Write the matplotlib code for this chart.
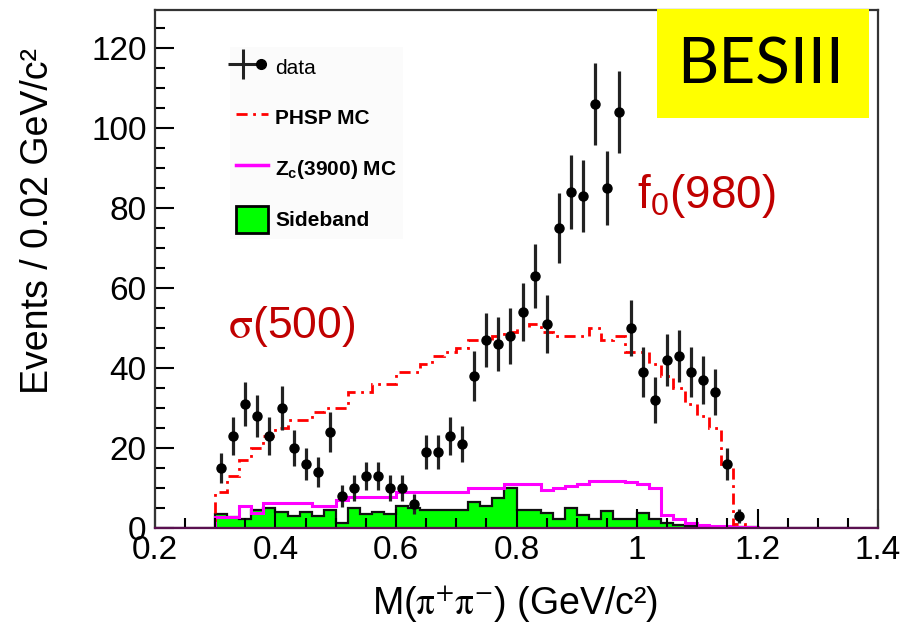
import numpy as np
import matplotlib
matplotlib.use('Agg')
import matplotlib.pyplot as plt
from matplotlib.patches import Rectangle, Patch
from matplotlib.lines import Line2D
from matplotlib.legend_handler import HandlerTuple

plt.rcParams['font.family'] = ['Liberation Sans', 'DejaVu Sans']
plt.rcParams['mathtext.fontset'] = 'custom'
plt.rcParams['mathtext.rm'] = 'Liberation Sans'
plt.rcParams['mathtext.it'] = 'Liberation Sans:italic'
plt.rcParams['mathtext.bf'] = 'Liberation Sans:bold'

# data points: bin centres (GeV/c^2) and events per 0.02 GeV/c^2
mass = [0.31, 0.33, 0.35, 0.37, 0.39, 0.41, 0.43, 0.45, 0.47, 0.49,
        0.51, 0.53, 0.55, 0.57, 0.59, 0.61, 0.63, 0.65, 0.67, 0.69,
        0.71, 0.73, 0.75, 0.77, 0.79, 0.81, 0.83, 0.85, 0.87, 0.89,
        0.91, 0.93, 0.95, 0.97, 0.99, 1.01, 1.03, 1.05, 1.07, 1.09,
        1.11, 1.13, 1.15, 1.17]
counts = [15, 23, 31, 28, 23, 30, 20, 16, 14, 24,
          8, 10, 13, 13, 10, 10, 6, 19, 19, 23,
          21, 38, 47, 46, 48, 54, 63, 51, 75, 84,
          83, 106, 85, 104, 50, 39, 32, 42, 43, 39,
          37, 34, 16, 3]

# MC / sideband histograms, 0.02 bins from 0.30 to 1.20
phsp = [9, 13, 17, 20, 23, 25, 27, 27, 29, 30,
        30, 34, 34, 36, 36, 39, 39, 41, 43, 44,
        45, 47, 47, 48, 49, 50, 51, 49, 48, 48,
        48, 50, 47, 48, 44, 44, 41, 38, 35, 31,
        28, 25, 16, 1, 0]
zc3900 = [2.8, 2.8, 5.5, 3.8, 6.2, 6.2, 6.2, 6.2, 5.6, 5.6,
          7, 7.8, 7.8, 7.8, 7.8, 9, 9, 9, 9, 9,
          9, 9.9, 9.9, 9.9, 11, 11, 11, 9.5, 10, 10.5,
          11, 11.7, 11.7, 11.7, 11.5, 11, 10, 3.2, 2.2, 1.2,
          0.7, 0.5, 0.4, 0.3, 0.2]
sideband = [3.5, 2.8, 2.2, 4.5, 5, 4, 3, 4, 3, 4.5,
            1.2, 5, 3.5, 4, 3.5, 5.5, 5, 4.5, 4.5, 4.5,
            4.5, 6.5, 5.5, 7.5, 10, 4.5, 4.5, 3.7, 2.2, 5,
            3.2, 2.2, 4.2, 2.2, 2.2, 3.8, 2.2, 1.2, 0.8, 0.6,
            0.4, 0.3, 0.2, 0.2, 0.2]

edges = np.linspace(0.2, 1.4, 61)
def pad(v):
    return np.concatenate([np.zeros(5), v, np.zeros(10)])

fig = plt.figure(figsize=(9.03, 6.28), dpi=100)
ax = fig.add_axes([155/903, 100/628, 723/903, 518/628])

ax.stairs(pad(sideband), edges, fill=True, color='#00ff00', zorder=1)
ax.stairs(pad(sideband), edges, color='#101010', lw=1.6, zorder=1.1)
ax.stairs(pad(zc3900), edges, color='#ff00ff', lw=2.2, zorder=1.2)
ax.stairs(pad(phsp), edges, color='#ff0000', lw=2.0, ls=(0, (4, 2, 1, 2)), zorder=1.3)
ax.errorbar(mass, counts, yerr=np.sqrt(counts), fmt='o', color='black', ecolor='#222222',
            ms=6.5, elinewidth=2.3, capsize=0, zorder=3)

ax.set_xlim(0.2, 1.4)
ax.set_ylim(0, 129.5)
ax.set_xticks([0.2, 0.4, 0.6, 0.8, 1.0, 1.2, 1.4])
ax.set_xticklabels(['0.2', '0.4', '0.6', '0.8', '1', '1.2', '1.4'])
ax.set_xticks(np.arange(0.2, 1.401, 0.05), minor=True)
ax.set_yticks(range(0, 121, 20))
ax.set_yticks(range(0, 130, 5), minor=True)
ax.tick_params(which='both', direction='in', labelsize=24, width=1.5, color='black')
ax.tick_params(which='major', length=14)
ax.tick_params(which='minor', length=7)
ax.tick_params(axis='y', pad=6)
ax.tick_params(axis='x', pad=5)
for s in ax.spines.values():
    s.set_linewidth(1.6)
    s.set_color('#333333')
ax.spines['bottom'].set_color('#5a1050')

fig.text(38/903, (628-48)/628, 'Events / 0.02 GeV/c²', rotation=90, ha='center', va='top', fontsize=27)
fig.text(515/903, (628-603)/628, r'M($\mathrm{\pi}^{+}\mathrm{\pi}^{-}$) (GeV/c²)', ha='center', va='center',
         fontsize=27, math_fontfamily='stix')

handles = [(Line2D([], [], marker='+', ms=22, mew=2.2, color='#222222', ls='none'),
            Line2D([], [], marker='o', ms=7, color='black', ls='none')),
           Line2D([], [], color='#ff0000', lw=2.0, ls=(0, (4, 2, 1, 2))),
           Line2D([], [], color='#ff00ff', lw=2.5),
           Patch(facecolor='#00ff00', edgecolor='black', lw=2)]
labels = ['data', 'PHSP MC', r'Z$_{\mathbf{c}}$(3900) MC', 'Sideband']
leg = ax.legend(handles, labels, loc='upper left', bbox_to_anchor=(0.104, 0.928), fontsize=15,
                handlelength=1.5, handleheight=1.6, handletextpad=0.35, labelspacing=1.15,
                borderpad=0.3, borderaxespad=0, frameon=True, fancybox=False,
                handler_map={tuple: HandlerTuple(ndivide=None)})
leg.get_frame().set_facecolor('#fafafa')
leg.get_frame().set_edgecolor('none')
for t in leg.get_texts()[1:]:
    t.set_fontweight('bold')

ax.text(0.321, 47.5, r'$\mathrm{\sigma}$(500)', color='#c00000', fontsize=32, ha='left', va='baseline',
        math_fontfamily='stix')
ax.text(1.0, 80, r'f$_{0}$(980)', color='#c00000', fontsize=33, ha='left', va='baseline')

fig.add_artist(Rectangle((657/903, (628-118)/628), 212/903, 109/628, transform=fig.transFigure,
                         facecolor='#ffff00', edgecolor='none', zorder=5))
fig.text(761/903, (628-65)/628, 'BESIII', ha='center', va='center', fontsize=46,
         family='Lato', zorder=6)

fig.savefig('out.png', dpi=100)
